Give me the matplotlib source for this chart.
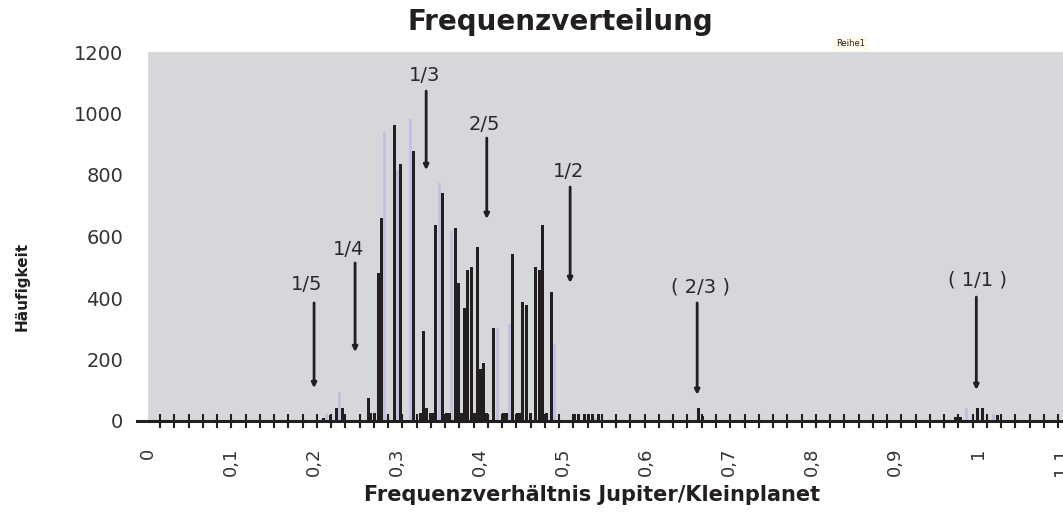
import numpy as np
import matplotlib
matplotlib.use("Agg")
import matplotlib.pyplot as plt

# histogram of frequency ratios
black_x = [0.2112, 0.2193, 0.2265, 0.2337, 0.2651, 0.2675, 0.2723, 0.2771, 0.2807,
           0.2964, 0.3036, 0.3193, 0.3277, 0.3313, 0.3349, 0.3398, 0.3434, 0.3458,
           0.3542, 0.359, 0.3627, 0.3699, 0.3735, 0.3771, 0.3807, 0.3843, 0.3892,
           0.3928, 0.3964, 0.4000, 0.4036, 0.4072, 0.4157, 0.4277, 0.4313, 0.4386,
           0.4446, 0.4482, 0.4506, 0.4554, 0.4602, 0.4663, 0.4711, 0.4747, 0.4795,
           0.4855, 0.5133, 0.518, 0.5253, 0.530, 0.535, 0.542,
           0.6627, 0.6675, 0.972, 0.978, 0.9988, 1.0048, 1.023]
black_h = [10, 20, 42, 42, 75, 25, 25, 481, 660,
           962, 836, 878, 25, 293, 42, 25, 25, 637,
           741, 25, 25, 627, 449, 25, 367, 490, 501,
           25, 565, 170, 190, 25, 302, 25, 25, 543,
           25, 25, 387, 377, 25, 501, 490, 637, 25,
           419, 22, 22, 22, 22, 22, 22,
           42, 15, 12, 12, 42, 42, 20]

purple_x = [0.2153, 0.2301, 0.2843, 0.3000, 0.3157, 0.3506, 0.3651, 0.4205,
            0.4349, 0.4892, 0.5386, 0.9855, 1.018]
purple_h = [23, 95, 940, 816, 982, 774, 618, 302,
            315, 250, 10, 42, 23]

# resonance annotations: label, text (x, y), arrow start y, arrow tip (x, y)
res_labels = ["1/5", "1/4", "1/3", "2/5", "1/2", "( 2/3 )", "( 1/1 )"]
res_text_x = [0.1916, 0.241, 0.3325, 0.405, 0.507, 0.665, 0.9988]
res_text_y = [445, 559, 1125, 963, 810, 436, 458]
res_line_x = [0.2, 0.2494, 0.335, 0.408, 0.5084, 0.6614, 0.9976]
res_line_top = [384, 514, 1073, 920, 761, 384, 403]
res_line_tip = [107, 224, 816, 657, 449, 85, 101]

xtick_vals = [0, 0.1, 0.2, 0.3, 0.4, 0.5, 0.6, 0.7, 0.8, 0.9, 1.0, 1.1]
xtick_labels = ["0", "0,1", "0,2", "0,3", "0,4", "0,5", "0,6", "0,7", "0,8", "0,9", "1", "1,1"]
ytick_vals = [0, 200, 400, 600, 800, 1000, 1200]
ytick_labels = ["0", "200", "400", "600", "800", "1000", "1200"]

plt.rcParams['font.family'] = ['DejaVu Sans']

fig = plt.figure(figsize=(10.63, 5.12), dpi=100)
ax = fig.add_axes([148/1063, 1 - 421/512, 915/1063, 369/512])
ax.set_facecolor("#d6d7da")

ax.bar(purple_x, purple_h, width=0.0036, color="#c3bfe0", zorder=1)
ax.bar(black_x, black_h, width=0.0036, color="#231f20", zorder=1.5)

for lab, tx, ty, lx, ltop, ltip in zip(res_labels, res_text_x, res_text_y,
                                       res_line_x, res_line_top, res_line_tip):
    ax.text(tx, ty, lab, ha="center", va="center", fontsize=14, color="#2a2a2a")
    ax.annotate("", xy=(lx, ltip), xytext=(lx, ltop),
                arrowprops=dict(arrowstyle="-|>", color="#231f20", lw=2,
                                mutation_scale=7, shrinkA=0, shrinkB=0))

ax.set_xlim(0, 1.102)
ax.set_ylim(0, 1200)

ax.set_xticks(xtick_vals)
ax.set_xticklabels(xtick_labels, rotation=90, fontsize=13, color="#333333")
ax.set_xticks(np.arange(0.01446, 1.1, 0.01717), minor=True)
ax.tick_params(axis="x", which="major", length=0, pad=19)
ax.tick_params(axis="x", which="minor", direction="inout", length=10, width=1.5,
               color="#231f20")
ax.set_yticks(ytick_vals)
ax.set_yticklabels(ytick_labels, fontsize=14, color="#333333")
ax.tick_params(axis="y", length=0, pad=18)

for s in ["top", "right", "left"]:
    ax.spines[s].set_visible(False)
ax.spines["bottom"].set_linewidth(2.2)
ax.spines["bottom"].set_color("#231f20")
ax.spines["bottom"].set_bounds(-0.013, 1.102)

fig.text(0.527, 0.958, "Frequenzverteilung", ha="center", va="center",
         fontsize=20, fontweight="bold", color="#231f20")
fig.text(0.557, 0.033, "Frequenzverhältnis Jupiter/Kleinplanet", ha="center",
         va="center", fontsize=15, fontweight="bold", color="#231f20")
fig.text(0.0207, 0.44, "Häufigkeit", ha="center", va="center", rotation=90,
         fontsize=11, fontweight="bold", color="#231f20")
fig.text(851/1063, 1 - 44/512, "Reihe1", ha="center", va="center", fontsize=6,
         color="#231f20",
         bbox=dict(facecolor="#fffbe8", edgecolor="none", pad=1.5))

fig.savefig("out.png", dpi=100)
